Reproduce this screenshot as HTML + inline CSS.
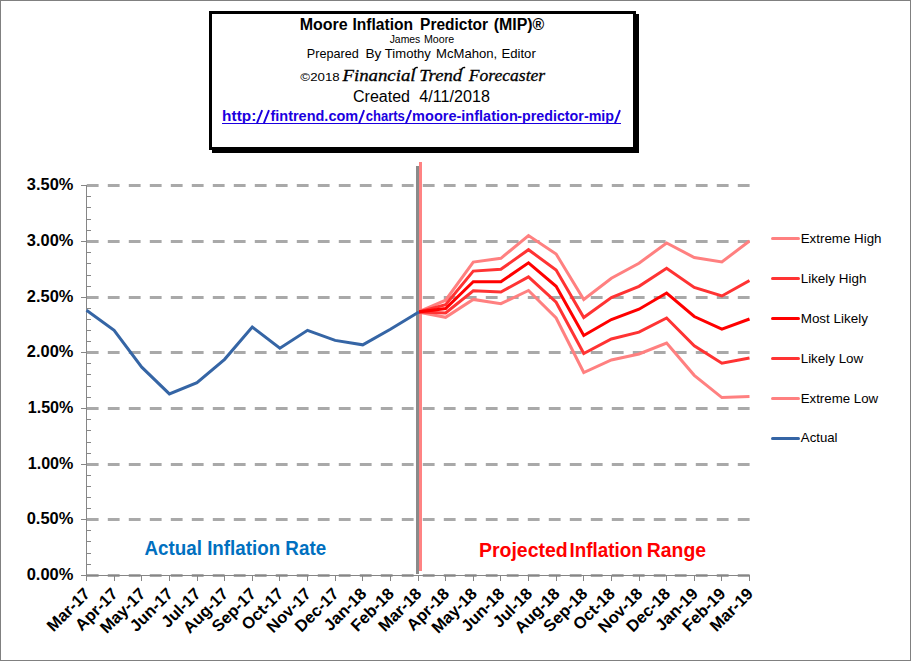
<!DOCTYPE html>
<html><head><meta charset="utf-8"><title>Moore Inflation Predictor (MIP)</title>
<style>
html,body{margin:0;padding:0;background:#fff;}
body{width:911px;height:661px;position:relative;overflow:hidden;font-family:"Liberation Sans",sans-serif;color:#000;}
#frame{position:absolute;left:0;top:0;width:909px;height:659px;border:1px solid #808080;}
#tbox{position:absolute;left:209px;top:11px;width:421px;height:133px;border:3px solid #000;box-shadow:3px 3px 0 #000;background:#fff;}
svg text{white-space:pre;}
</style></head><body>
<div id="frame"></div>
<div id="tbox"></div>

<svg width="911" height="661" viewBox="0 0 911 661" style="position:absolute;left:0;top:0">
<line x1="86.8" y1="185.5" x2="750" y2="185.5" stroke="#A9A9A9" stroke-width="3" stroke-dasharray="11.8 9.2"/>
<line x1="86.8" y1="241.5" x2="750" y2="241.5" stroke="#A9A9A9" stroke-width="3" stroke-dasharray="11.8 9.2"/>
<line x1="86.8" y1="297.5" x2="750" y2="297.5" stroke="#A9A9A9" stroke-width="3" stroke-dasharray="11.8 9.2"/>
<line x1="86.8" y1="352.5" x2="750" y2="352.5" stroke="#A9A9A9" stroke-width="3" stroke-dasharray="11.8 9.2"/>
<line x1="86.8" y1="408.5" x2="750" y2="408.5" stroke="#A9A9A9" stroke-width="3" stroke-dasharray="11.8 9.2"/>
<line x1="86.8" y1="464.5" x2="750" y2="464.5" stroke="#A9A9A9" stroke-width="3" stroke-dasharray="11.8 9.2"/>
<line x1="86.8" y1="519.5" x2="750" y2="519.5" stroke="#A9A9A9" stroke-width="3" stroke-dasharray="11.8 9.2"/>
<line x1="86.8" y1="575.5" x2="750" y2="575.5" stroke="#A9A9A9" stroke-width="3" stroke-dasharray="11.8 9.2"/>
<g shape-rendering="crispEdges" stroke="#868686" stroke-width="1">
<line x1="86.5" y1="185" x2="86.5" y2="581"/>
<line x1="81" y1="575.5" x2="750" y2="575.5"/>
<line x1="81" y1="185.5" x2="87" y2="185.5"/>
<line x1="87" y1="196.5" x2="91" y2="196.5"/>
<line x1="87" y1="207.5" x2="91" y2="207.5"/>
<line x1="87" y1="219.5" x2="91" y2="219.5"/>
<line x1="87" y1="230.5" x2="91" y2="230.5"/>
<line x1="81" y1="241.5" x2="87" y2="241.5"/>
<line x1="87" y1="252.5" x2="91" y2="252.5"/>
<line x1="87" y1="263.5" x2="91" y2="263.5"/>
<line x1="87" y1="275.5" x2="91" y2="275.5"/>
<line x1="87" y1="286.5" x2="91" y2="286.5"/>
<line x1="81" y1="297.5" x2="87" y2="297.5"/>
<line x1="87" y1="308.5" x2="91" y2="308.5"/>
<line x1="87" y1="319.5" x2="91" y2="319.5"/>
<line x1="87" y1="330.5" x2="91" y2="330.5"/>
<line x1="87" y1="341.5" x2="91" y2="341.5"/>
<line x1="81" y1="352.5" x2="87" y2="352.5"/>
<line x1="87" y1="363.5" x2="91" y2="363.5"/>
<line x1="87" y1="374.5" x2="91" y2="374.5"/>
<line x1="87" y1="386.5" x2="91" y2="386.5"/>
<line x1="87" y1="397.5" x2="91" y2="397.5"/>
<line x1="81" y1="408.5" x2="87" y2="408.5"/>
<line x1="87" y1="419.5" x2="91" y2="419.5"/>
<line x1="87" y1="430.5" x2="91" y2="430.5"/>
<line x1="87" y1="442.5" x2="91" y2="442.5"/>
<line x1="87" y1="453.5" x2="91" y2="453.5"/>
<line x1="81" y1="464.5" x2="87" y2="464.5"/>
<line x1="87" y1="475.5" x2="91" y2="475.5"/>
<line x1="87" y1="486.5" x2="91" y2="486.5"/>
<line x1="87" y1="497.5" x2="91" y2="497.5"/>
<line x1="87" y1="508.5" x2="91" y2="508.5"/>
<line x1="81" y1="519.5" x2="87" y2="519.5"/>
<line x1="87" y1="530.5" x2="91" y2="530.5"/>
<line x1="87" y1="541.5" x2="91" y2="541.5"/>
<line x1="87" y1="553.5" x2="91" y2="553.5"/>
<line x1="87" y1="564.5" x2="91" y2="564.5"/>
<line x1="114.5" y1="576" x2="114.5" y2="581"/>
<line x1="141.5" y1="576" x2="141.5" y2="581"/>
<line x1="169.5" y1="576" x2="169.5" y2="581"/>
<line x1="197.5" y1="576" x2="197.5" y2="581"/>
<line x1="224.5" y1="576" x2="224.5" y2="581"/>
<line x1="252.5" y1="576" x2="252.5" y2="581"/>
<line x1="279.5" y1="576" x2="279.5" y2="581"/>
<line x1="307.5" y1="576" x2="307.5" y2="581"/>
<line x1="335.5" y1="576" x2="335.5" y2="581"/>
<line x1="362.5" y1="576" x2="362.5" y2="581"/>
<line x1="390.5" y1="576" x2="390.5" y2="581"/>
<line x1="418.5" y1="576" x2="418.5" y2="581"/>
<line x1="445.5" y1="576" x2="445.5" y2="581"/>
<line x1="473.5" y1="576" x2="473.5" y2="581"/>
<line x1="500.5" y1="576" x2="500.5" y2="581"/>
<line x1="528.5" y1="576" x2="528.5" y2="581"/>
<line x1="556.5" y1="576" x2="556.5" y2="581"/>
<line x1="583.5" y1="576" x2="583.5" y2="581"/>
<line x1="611.5" y1="576" x2="611.5" y2="581"/>
<line x1="639.5" y1="576" x2="639.5" y2="581"/>
<line x1="666.5" y1="576" x2="666.5" y2="581"/>
<line x1="694.5" y1="576" x2="694.5" y2="581"/>
<line x1="721.5" y1="576" x2="721.5" y2="581"/>
<line x1="749.5" y1="576" x2="749.5" y2="581"/>
</g>
<rect x="416" y="166" width="3" height="408" fill="#8A8A8A"/>
<rect x="419" y="162" width="3" height="409" fill="#FF8383"/>
<clipPath id="c"><rect x="80" y="160" width="670" height="420"/></clipPath>
<clipPath id="r"><rect x="419" y="160" width="331" height="420"/></clipPath>
<g clip-path="url(#r)" fill="none" stroke-width="3" stroke-linejoin="miter" stroke-linecap="butt">
<polyline stroke="#FF8080" points="418.00,312.00 445.62,300.20 473.25,262.10 500.88,258.30 528.50,235.60 556.12,254.00 583.75,299.50 611.38,278.20 639.00,263.20 666.62,243.00 694.25,257.50 721.88,262.00 749.50,240.90"/>
<polyline stroke="#FF8080" points="418.00,312.00 445.62,317.30 473.25,299.40 500.88,303.70 528.50,290.50 556.12,318.00 583.75,372.50 611.38,360.00 639.00,354.00 666.62,343.00 694.25,375.30 721.88,397.60 749.50,396.50"/>
<polyline stroke="#FF3333" points="418.00,312.00 445.62,304.60 473.25,271.10 500.88,269.30 528.50,249.70 556.12,270.10 583.75,317.50 611.38,297.50 639.00,286.30 666.62,268.30 694.25,287.50 721.88,296.00 749.50,280.50"/>
<polyline stroke="#FF3333" points="418.00,312.00 445.62,312.90 473.25,290.80 500.88,292.00 528.50,276.90 556.12,302.20 583.75,353.50 611.38,339.00 639.00,332.20 666.62,318.00 694.25,345.80 721.88,363.20 749.50,358.00"/>
<polyline stroke="#FF0000" points="418.00,312.00 445.62,308.50 473.25,281.70 500.88,281.70 528.50,262.80 556.12,286.30 583.75,335.50 611.38,319.50 639.00,309.20 666.62,293.00 694.25,316.50 721.88,329.20 749.50,319.00"/>
</g>
<polyline clip-path="url(#c)" fill="none" stroke-width="3" stroke-linejoin="miter" stroke="#3565A5" points="86.50,310.30 114.12,330.36 141.75,367.13 169.38,393.87 197.00,382.73 224.62,359.33 252.25,327.01 279.88,348.19 307.50,330.36 335.12,340.39 362.75,344.84 390.38,329.24 418.00,312.53 419.00,311.98"/>
<line x1="772.5" y1="238.5" x2="798.5" y2="238.5" stroke="#FF8080" stroke-width="3" stroke-linecap="round"/>
<line x1="772.5" y1="278.5" x2="798.5" y2="278.5" stroke="#FF3333" stroke-width="3" stroke-linecap="round"/>
<line x1="772.5" y1="318.5" x2="798.5" y2="318.5" stroke="#FF0000" stroke-width="3" stroke-linecap="round"/>
<line x1="772.5" y1="358.5" x2="798.5" y2="358.5" stroke="#FF3333" stroke-width="3" stroke-linecap="round"/>
<line x1="772.5" y1="398.5" x2="798.5" y2="398.5" stroke="#FF8080" stroke-width="3" stroke-linecap="round"/>
<line x1="772.5" y1="438.5" x2="798.5" y2="438.5" stroke="#3565A5" stroke-width="3" stroke-linecap="round"/>
<text x="299.71" y="30" textLength="47.98" lengthAdjust="spacingAndGlyphs" font-family="Liberation Sans" font-size="16" font-weight="bold" font-style="normal" fill="#000">Moore</text>
<text x="352.46" y="30" textLength="60.61" lengthAdjust="spacingAndGlyphs" font-family="Liberation Sans" font-size="16" font-weight="bold" font-style="normal" fill="#000">Inflation</text>
<text x="420.12" y="30" textLength="67.98" lengthAdjust="spacingAndGlyphs" font-family="Liberation Sans" font-size="16" font-weight="bold" font-style="normal" fill="#000">Predictor</text>
<text x="493.7" y="30" textLength="50.59" lengthAdjust="spacingAndGlyphs" font-family="Liberation Sans" font-size="16" font-weight="bold" font-style="normal" fill="#000">(MIP)®</text>
<text x="389.65" y="42.8" textLength="30.64" lengthAdjust="spacingAndGlyphs" font-family="Liberation Sans" font-size="10.4" font-weight="normal" font-style="normal" fill="#000">James</text>
<text x="423.9" y="42.8" textLength="30.22" lengthAdjust="spacingAndGlyphs" font-family="Liberation Sans" font-size="10.4" font-weight="normal" font-style="normal" fill="#000">Moore</text>
<text x="306.83" y="57.8" textLength="51.91" lengthAdjust="spacingAndGlyphs" font-family="Liberation Sans" font-size="13.33" font-weight="normal" font-style="normal" fill="#000">Prepared</text>
<text x="365.48" y="57.8" textLength="15.92" lengthAdjust="spacingAndGlyphs" font-family="Liberation Sans" font-size="13.33" font-weight="normal" font-style="normal" fill="#000">By</text>
<text x="384.87" y="57.8" textLength="45.97" lengthAdjust="spacingAndGlyphs" font-family="Liberation Sans" font-size="13.33" font-weight="normal" font-style="normal" fill="#000">Timothy</text>
<text x="436.07" y="57.8" textLength="61.12" lengthAdjust="spacingAndGlyphs" font-family="Liberation Sans" font-size="13.33" font-weight="normal" font-style="normal" fill="#000">McMahon,</text>
<text x="501.42" y="57.8" textLength="34.4" lengthAdjust="spacingAndGlyphs" font-family="Liberation Sans" font-size="13.33" font-weight="normal" font-style="normal" fill="#000">Editor</text>
<text x="300.38" y="80.6" textLength="39.31" lengthAdjust="spacingAndGlyphs" font-family="Liberation Sans" font-size="11.6" font-weight="normal" font-style="normal" fill="#000">©2018</text>
<text x="342.45" y="80.5" textLength="73.14" lengthAdjust="spacingAndGlyphs" font-family="Liberation Serif" font-size="16.8" font-weight="normal" font-style="italic" fill="#000" stroke="#000" stroke-width="0.3">Financial</text>
<text x="419.19" y="80.5" textLength="42.97" lengthAdjust="spacingAndGlyphs" font-family="Liberation Serif" font-size="16.8" font-weight="normal" font-style="italic" fill="#000" stroke="#000" stroke-width="0.3">Trend</text>
<text x="468.8" y="80.5" textLength="76.33" lengthAdjust="spacingAndGlyphs" font-family="Liberation Serif" font-size="16.8" font-weight="normal" font-style="italic" fill="#000" stroke="#000" stroke-width="0.3">Forecaster</text>
<text x="353.01" y="101.5" textLength="57.04" lengthAdjust="spacingAndGlyphs" font-family="Liberation Sans" font-size="16" font-weight="normal" font-style="normal" fill="#000">Created</text>
<text x="419.36" y="101.5" textLength="70.51" lengthAdjust="spacingAndGlyphs" font-family="Liberation Sans" font-size="16" font-weight="normal" font-style="normal" fill="#000">4/11/2018</text>
<text x="222.1" y="121" textLength="34.21" lengthAdjust="spacingAndGlyphs" font-family="Liberation Sans" font-size="14.3" font-weight="bold" font-style="normal" fill="#1C00E0">http:</text>
<text x="270.47" y="121" textLength="87.71" lengthAdjust="spacingAndGlyphs" font-family="Liberation Sans" font-size="14.3" font-weight="bold" font-style="normal" fill="#1C00E0">fintrend.com</text>
<text x="365.7" y="121" textLength="39.14" lengthAdjust="spacingAndGlyphs" font-family="Liberation Sans" font-size="14.3" font-weight="bold" font-style="normal" fill="#1C00E0">charts</text>
<text x="412.11" y="121" textLength="105.65" lengthAdjust="spacingAndGlyphs" font-family="Liberation Sans" font-size="14.3" font-weight="bold" font-style="normal" fill="#1C00E0">moore-inflation</text>
<text x="517.24" y="121" textLength="96.8" lengthAdjust="spacingAndGlyphs" font-family="Liberation Sans" font-size="14.3" font-weight="bold" font-style="normal" fill="#1C00E0">-predictor-mip</text>
<text x="26.87" y="190" textLength="46.5" lengthAdjust="spacingAndGlyphs" font-family="Liberation Sans" font-size="16" font-weight="bold" font-style="normal" fill="#000">3.50%</text>
<text x="26.87" y="246" textLength="46.5" lengthAdjust="spacingAndGlyphs" font-family="Liberation Sans" font-size="16" font-weight="bold" font-style="normal" fill="#000">3.00%</text>
<text x="26.83" y="302" textLength="46.54" lengthAdjust="spacingAndGlyphs" font-family="Liberation Sans" font-size="16" font-weight="bold" font-style="normal" fill="#000">2.50%</text>
<text x="26.83" y="357" textLength="46.54" lengthAdjust="spacingAndGlyphs" font-family="Liberation Sans" font-size="16" font-weight="bold" font-style="normal" fill="#000">2.00%</text>
<text x="27.73" y="413" textLength="45.63" lengthAdjust="spacingAndGlyphs" font-family="Liberation Sans" font-size="16" font-weight="bold" font-style="normal" fill="#000">1.50%</text>
<text x="27.73" y="469" textLength="45.63" lengthAdjust="spacingAndGlyphs" font-family="Liberation Sans" font-size="16" font-weight="bold" font-style="normal" fill="#000">1.00%</text>
<text x="26.71" y="524" textLength="46.67" lengthAdjust="spacingAndGlyphs" font-family="Liberation Sans" font-size="16" font-weight="bold" font-style="normal" fill="#000">0.50%</text>
<text x="26.71" y="580" textLength="46.67" lengthAdjust="spacingAndGlyphs" font-family="Liberation Sans" font-size="16" font-weight="bold" font-style="normal" fill="#000">0.00%</text>
<text x="800.7" y="243" textLength="80.81" lengthAdjust="spacingAndGlyphs" font-family="Liberation Sans" font-size="13.33" font-weight="normal" font-style="normal" fill="#000">Extreme High</text>
<text x="800.7" y="283" textLength="65.76" lengthAdjust="spacingAndGlyphs" font-family="Liberation Sans" font-size="13.33" font-weight="normal" font-style="normal" fill="#000">Likely High</text>
<text x="800.7" y="323" textLength="67.28" lengthAdjust="spacingAndGlyphs" font-family="Liberation Sans" font-size="13.33" font-weight="normal" font-style="normal" fill="#000">Most Likely</text>
<text x="800.7" y="363" textLength="62.56" lengthAdjust="spacingAndGlyphs" font-family="Liberation Sans" font-size="13.33" font-weight="normal" font-style="normal" fill="#000">Likely Low</text>
<text x="800.7" y="403" textLength="77.48" lengthAdjust="spacingAndGlyphs" font-family="Liberation Sans" font-size="13.33" font-weight="normal" font-style="normal" fill="#000">Extreme Low</text>
<text x="800.86" y="442" textLength="36.66" lengthAdjust="spacingAndGlyphs" font-family="Liberation Sans" font-size="13.33" font-weight="normal" font-style="normal" fill="#000">Actual</text>
<text x="144.52" y="555" textLength="181.57" lengthAdjust="spacingAndGlyphs" font-family="Liberation Sans" font-size="19.3" font-weight="bold" font-style="normal" fill="#0070C0">Actual Inflation Rate</text>
<text x="479.06" y="557" textLength="88.61" lengthAdjust="spacingAndGlyphs" font-family="Liberation Sans" font-size="19.3" font-weight="bold" font-style="normal" fill="#FF0000">Projected</text>
<text x="569.5" y="557" textLength="73.16" lengthAdjust="spacingAndGlyphs" font-family="Liberation Sans" font-size="19.3" font-weight="bold" font-style="normal" fill="#FF0000">Inflation</text>
<text x="646.83" y="557" textLength="59.21" lengthAdjust="spacingAndGlyphs" font-family="Liberation Sans" font-size="19.3" font-weight="bold" font-style="normal" fill="#FF0000">Range</text>
<path d="M413.6,69.6 C414.1,67.3 415.9,66.5 417.9,66.9 L417.7,68.3 C416.2,68 415.1,68.5 414.8,70 Z" fill="#000"/>
<path d="M460.9,69.6 C461.4,67.3 463.2,66.5 465.3,66.9 L465.1,68.3 C463.6,68 462.4,68.5 462.1,70 Z" fill="#000"/>
<line x1="257.00" y1="123.2" x2="262.20" y2="110.2" stroke="#1C00E0" stroke-width="1.9"/>
<line x1="263.90" y1="123.2" x2="269.00" y2="110.2" stroke="#1C00E0" stroke-width="1.9"/>
<line x1="359.20" y1="123.2" x2="364.10" y2="110.2" stroke="#1C00E0" stroke-width="1.9"/>
<line x1="406.00" y1="123.2" x2="411.20" y2="110.2" stroke="#1C00E0" stroke-width="1.9"/>
<line x1="615.00" y1="123.2" x2="620.00" y2="110.2" stroke="#1C00E0" stroke-width="1.9"/>
<rect x="222" y="123" width="399" height="1" fill="#1C00E0"/>
<g font-family="Liberation Sans" font-weight="bold" font-size="16.5" text-anchor="end" fill="#000">
<text transform="translate(91.12,594.78) rotate(-45)">Mar-17</text>
<text transform="translate(118.75,594.78) rotate(-45)">Apr-17</text>
<text transform="translate(146.37,594.78) rotate(-45)">May-17</text>
<text transform="translate(174.00,594.78) rotate(-45)">Jun-17</text>
<text transform="translate(201.62,594.78) rotate(-45)">Jul-17</text>
<text transform="translate(229.25,594.78) rotate(-45)">Aug-17</text>
<text transform="translate(256.87,594.78) rotate(-45)">Sep-17</text>
<text transform="translate(284.50,594.78) rotate(-45)">Oct-17</text>
<text transform="translate(312.12,594.78) rotate(-45)">Nov-17</text>
<text transform="translate(339.75,594.78) rotate(-45)">Dec-17</text>
<text transform="translate(367.37,594.78) rotate(-45)">Jan-18</text>
<text transform="translate(395.00,594.78) rotate(-45)">Feb-18</text>
<text transform="translate(422.62,594.78) rotate(-45)">Mar-18</text>
<text transform="translate(450.25,594.78) rotate(-45)">Apr-18</text>
<text transform="translate(477.87,594.78) rotate(-45)">May-18</text>
<text transform="translate(505.50,594.78) rotate(-45)">Jun-18</text>
<text transform="translate(533.12,594.78) rotate(-45)">Jul-18</text>
<text transform="translate(560.75,594.78) rotate(-45)">Aug-18</text>
<text transform="translate(588.37,594.78) rotate(-45)">Sep-18</text>
<text transform="translate(616.00,594.78) rotate(-45)">Oct-18</text>
<text transform="translate(643.62,594.78) rotate(-45)">Nov-18</text>
<text transform="translate(671.25,594.78) rotate(-45)">Dec-18</text>
<text transform="translate(698.87,594.78) rotate(-45)">Jan-19</text>
<text transform="translate(726.50,594.78) rotate(-45)">Feb-19</text>
<text transform="translate(754.12,594.78) rotate(-45)">Mar-19</text>
</g>
</svg>
</body></html>
